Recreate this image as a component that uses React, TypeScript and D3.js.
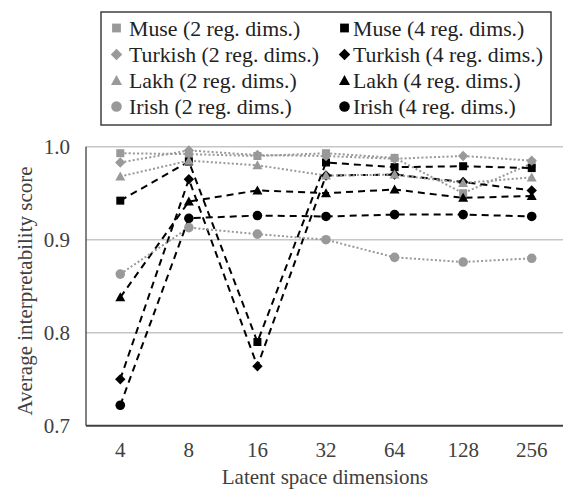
import React from "react";
import * as d3 from "d3";

const categories = ["4", "8", "16", "32", "64", "128", "256"];
const yTicks = [0.7, 0.8, 0.9, 1.0];

const museTwo = [0.993, 0.992, 0.990, 0.993, 0.988, 0.950, 0.982];
const museFour = [0.942, 0.984, 0.790, 0.983, 0.978, 0.979, 0.977];
const turkishTwo = [0.983, 0.996, 0.991, 0.990, 0.987, 0.990, 0.985];
const turkishFour = [0.750, 0.965, 0.764, 0.969, 0.970, 0.962, 0.953];
const lakhTwo = [0.968, 0.985, 0.980, 0.969, 0.970, 0.961, 0.967];
const lakhFour = [0.838, 0.941, 0.953, 0.950, 0.954, 0.945, 0.947];
const irishTwo = [0.863, 0.913, 0.906, 0.900, 0.881, 0.876, 0.880];
const irishFour = [0.722, 0.923, 0.926, 0.925, 0.927, 0.927, 0.925];

const seriesNames = [
  "Muse (2 reg. dims.)",
  "Muse (4 reg. dims.)",
  "Turkish (2 reg. dims.)",
  "Turkish (4 reg. dims.)",
  "Lakh (2 reg. dims.)",
  "Lakh (4 reg. dims.)",
  "Irish (2 reg. dims.)",
  "Irish (4 reg. dims.)",
];
const seriesValues = [museTwo, museFour, turkishTwo, turkishFour, lakhTwo, lakhFour, irishTwo, irishFour];
const seriesShapes = ["square", "square", "diamond", "diamond", "triangle", "triangle", "circle", "circle"];

const W = 563;
const H = 489;
const GRAY = "#999999";
const BLACK = "#000000";
const FONT = "Liberation Serif, Times New Roman, Times, serif";
const TS: React.CSSProperties = { fontFamily: FONT, fontSize: "21px" };
const LS: React.CSSProperties = { fontFamily: FONT, fontSize: "21.8px" };

function Marker({ shape, x, y, color, s = 1 }: { shape: string; x: number; y: number; color: string; s?: number }) {
  if (shape === "square") {
    const h = 4 * s;
    return <rect x={x - h} y={y - h} width={2 * h} height={2 * h} fill={color} />;
  }
  if (shape === "diamond") {
    const h = 5.2 * s;
    return <path d={`M${x},${y - h}L${x + h},${y}L${x},${y + h}L${x - h},${y}Z`} fill={color} />;
  }
  if (shape === "triangle") {
    const h = 5 * s;
    return <path d={`M${x},${y - h}L${x + h},${y + h * 0.8}L${x - h},${y + h * 0.8}Z`} fill={color} />;
  }
  return <circle cx={x} cy={y} r={4.8 * s} fill={color} />;
}

export default function App() {
  const x = d3.scalePoint<string>().domain(categories).range([86, 566]).padding(0.5);
  const y = d3.scaleLinear().domain([0.7, 1.0]).range([425.7, 146.7]);
  const line = d3
    .line<number>()
    .x((_, i) => x(categories[i]) as number)
    .y((d) => y(d));

  const legendRows = [28, 54.5, 80.5, 106.5];
  const legendCols = [{ mx: 116.5, tx: 129 }, { mx: 344.5, tx: 353 }];

  return (
    <svg
      width={W}
      height={H}
      style={{ position: "absolute", left: 0, top: 0, background: "#fff", fontFamily: FONT }}
    >
      <rect x={0} y={0} width={W} height={H} fill="#fff" />
      {yTicks
        .filter((t) => t > 0.7)
        .map((t) => (
          <line key={t} x1={86} x2={W} y1={y(t)} y2={y(t)} stroke="#c6c6c6" strokeWidth={1.4} />
        ))}
      <line x1={86} x2={86} y1={y(1.0)} y2={y(0.7)} stroke="#404040" strokeWidth={1.3} />
      <line x1={86} x2={W} y1={y(0.7)} y2={y(0.7)} stroke="#404040" strokeWidth={2} />
      {yTicks.map((t) => (
        <text key={t} x={70} y={y(t) + 7} textAnchor="end" style={TS} fill="#404040">
          {d3.format(".1f")(t)}
        </text>
      ))}
      {categories.map((c) => (
        <text key={c} x={x(c)} y={457} textAnchor="middle" style={TS} fill="#404040">
          {c}
        </text>
      ))}
      <text x={(86 + W) / 2 + 0.5} y={484} textAnchor="middle" style={TS} fill="#404040">
        Latent space dimensions
      </text>
      <text transform={`translate(32,291) rotate(-90)`} textAnchor="middle" style={TS} fill="#404040">
        Average interpretability score
      </text>
      {seriesValues.map((vals, i) => {
        const two = i % 2 === 0;
        return (
          <path
            key={"l" + i}
            d={line(vals) || ""}
            fill="none"
            stroke={two ? GRAY : BLACK}
            strokeWidth={2}
            strokeDasharray={two ? "2,2.2" : "7,5"}
          />
        );
      })}
      {seriesValues.map((vals, i) =>
        vals.map((v, j) => (
          <Marker
            key={"m" + i + "-" + j}
            shape={seriesShapes[i]}
            x={x(categories[j]) as number}
            y={y(v)}
            color={i % 2 === 0 ? GRAY : BLACK}
          />
        ))
      )}
      <rect x={101} y={12} width={450} height={113} fill="#fff" stroke="#404040" strokeWidth={1.5} />
      {seriesNames.map((name, i) => {
        const col = legendCols[i % 2];
        const row = legendRows[Math.floor(i / 2)];
        return (
          <g key={"lg" + i}>
            <Marker shape={seriesShapes[i]} x={col.mx} y={row} color={i % 2 === 0 ? GRAY : BLACK} s={1.1} />
            <text x={col.tx} y={row + 7.5} style={LS} fill="#222">
              {name}
            </text>
          </g>
        );
      })}
    </svg>
  );
}
